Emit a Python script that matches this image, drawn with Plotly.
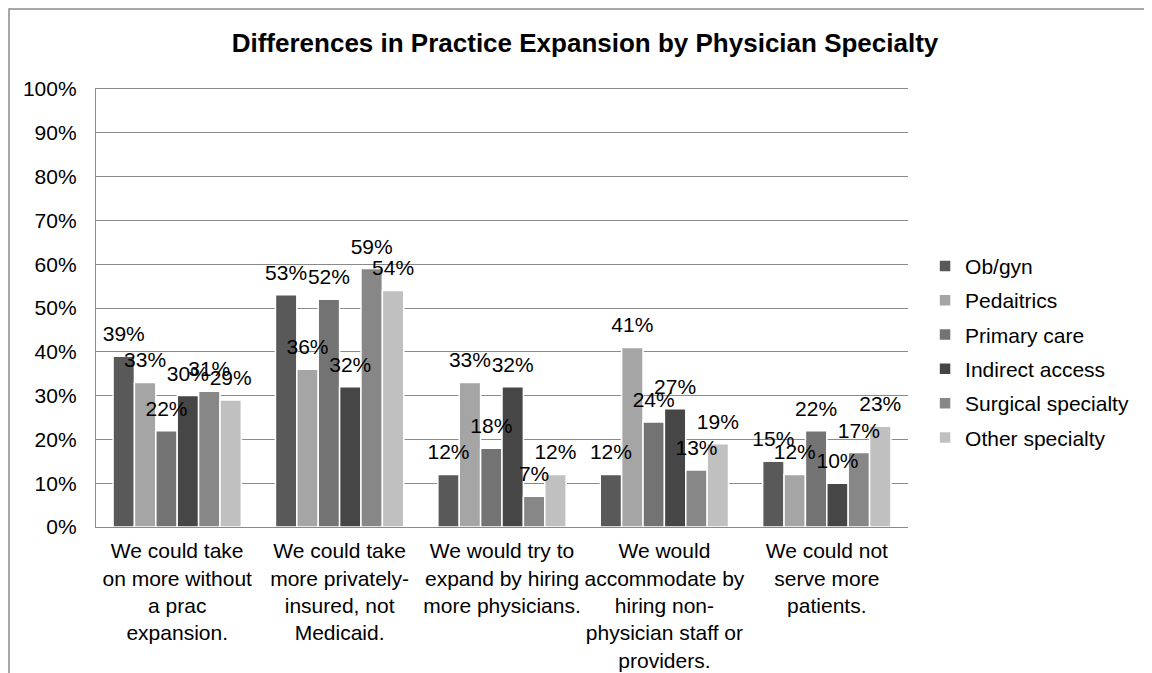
import plotly.graph_objects as go

categories = [
    "We could take<br>on more without<br>a prac<br>expansion.",
    "We could take<br>more privately-<br>insured, not<br>Medicaid.",
    "We would try to<br>expand by hiring<br>more physicians.",
    "We would<br>accommodate by<br>hiring non-<br>physician staff or<br>providers.",
    "We could not<br>serve more<br>patients.",
]
series_names = ["Ob/gyn", "Pedaitrics", "Primary care", "Indirect access",
                "Surgical specialty", "Other specialty"]
ob_gyn = [0.39, 0.53, 0.12, 0.12, 0.15]
pediatrics = [0.33, 0.36, 0.33, 0.41, 0.12]
primary_care = [0.22, 0.52, 0.18, 0.24, 0.22]
indirect_access = [0.30, 0.32, 0.32, 0.27, 0.10]
surgical = [0.31, 0.59, 0.07, 0.13, 0.17]
other = [0.29, 0.54, 0.12, 0.19, 0.23]
series_values = [ob_gyn, pediatrics, primary_care, indirect_access, surgical, other]
colors = ["#595959", "#a5a5a5", "#737373", "#464646", "#878787", "#c0c0c0"]

FONT = "Arial, Liberation Sans, sans-serif"

# page body has an 8px margin, so figure coords = screen coords - 8
L, T, PW, PH = 88, 81, 812, 438
W, H = 1152, 673

fig = go.Figure()
for i, (name, vals, col) in enumerate(zip(series_names, series_values, colors)):
    fig.add_trace(go.Bar(
        x=categories, y=vals, name=name, offsetgroup=str(i),
        legendgroup=str(i),
        marker=dict(color=col, line=dict(color="white", width=1.5)),
    ))
for i, (name, vals) in enumerate(zip(series_names, series_values)):
    fig.add_trace(go.Scatter(
        x=categories, y=vals, name=name, offsetgroup=str(i),
        legendgroup=str(i), showlegend=False,
        mode="markers+text", marker=dict(size=14, opacity=0),
        text=[f"{round(v*100)}%" for v in vals],
        textposition="top center", cliponaxis=False,
        textfont=dict(size=21, color="black", family=FONT),
        hoverinfo="skip",
    ))

fig.update_layout(
    width=W, height=H,
    margin=dict(l=L, r=W - L - PW, t=T, b=H - T - PH),
    paper_bgcolor="white", plot_bgcolor="white",
    font=dict(family=FONT, size=21, color="black"),
    barmode="group", bargap=0.21, bargroupgap=0,
    scattermode="group", scattergap=0.21,
    title=dict(text="<b>Differences in Practice Expansion by Physician Specialty</b>",
               font=dict(size=26, color="black", family=FONT),
               x=577 / W, xref="container", xanchor="center",
               y=1 - 35 / H, yref="container", yanchor="middle"),
    legend=dict(x=1.021, xanchor="left", y=0.40, yanchor="middle",
                font=dict(size=21, color="black", family=FONT),
                itemwidth=30, bgcolor="rgba(0,0,0,0)",
                traceorder="grouped", tracegroupgap=4),
    showlegend=True,
)
fig.update_yaxes(range=[0, 1], dtick=0.1, tickformat=".0%",
                 showgrid=True, gridcolor="#8a8a8a", gridwidth=1.3,
                 showline=True, linecolor="#8a8a8a", linewidth=1.3,
                 ticks="", ticklabelstandoff=14, zeroline=False,
                 automargin=False, tickfont=dict(size=21))
fig.update_xaxes(showline=True, linecolor="#8a8a8a", linewidth=1.3,
                 mirror=True,
                 ticks="", showgrid=False, tickangle=0, automargin=False,
                 ticklabelstandoff=5, tickfont=dict(size=21))

# outer chart border (top and left visible; right/bottom run past the page)
fig.add_shape(type="rect", xref="paper", yref="paper",
              x0=(1 - L) / PW, x1=(1170 - L) / PW,
              y0=(T + PH - 700) / PH, y1=(T + PH - 1) / PH,
              line=dict(color="#8a8a8a", width=1.5), fillcolor="rgba(0,0,0,0)",
              layer="below")

fig.write_html("out.html")
